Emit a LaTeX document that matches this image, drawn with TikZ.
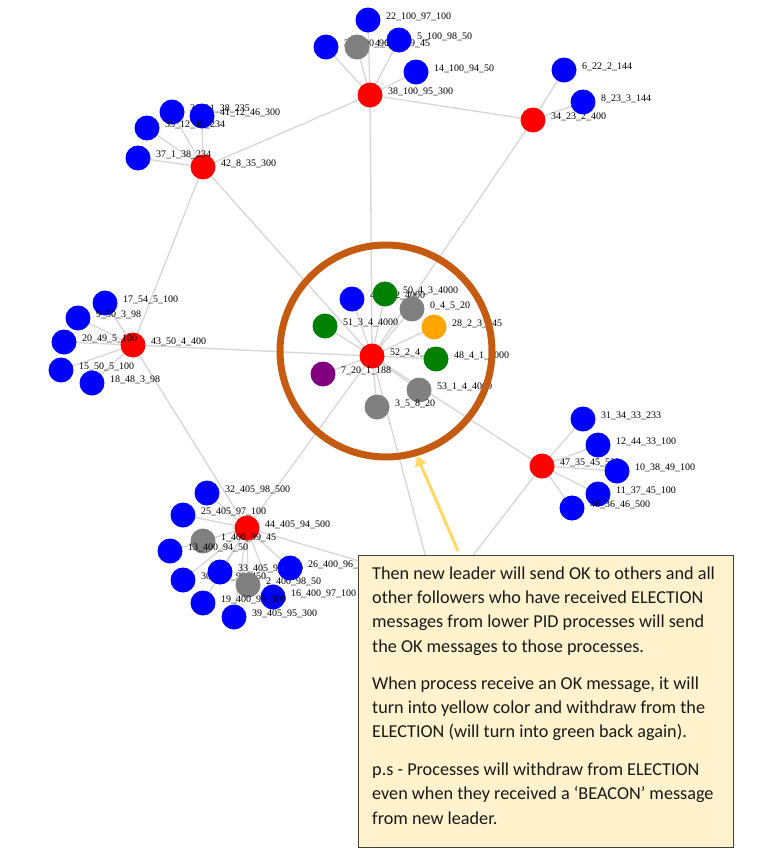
\documentclass[tikz,border=0pt]{standalone}
\usepackage{fontspec}
\setmainfont{Liberation Serif}
\newfontfamily\boxfont{Carlito}
\usetikzlibrary{calc,arrows.meta}
\definecolor{edgegray}{HTML}{D6D6D6}
\definecolor{pblue}{HTML}{0000FF}
\definecolor{pred}{HTML}{FF0000}
\definecolor{pgray}{HTML}{808080}
\definecolor{pgreen}{HTML}{008000}
\definecolor{porange}{HTML}{FFA500}
\definecolor{ppurple}{HTML}{800080}
\definecolor{ringbrown}{HTML}{C55A11}
\definecolor{arrowyellow}{HTML}{FFD966}
\definecolor{notefill}{HTML}{FFF2CC}
\definecolor{noteborder}{HTML}{404040}
\pgfdeclarelayer{bg}
\pgfsetlayers{bg,main}
\newcommand\procnode[5]{\node[proc,fill=#4] (#1) at (#2,#3) {};
  \node[lbl] (#1l) at ($(#1)+(18,-3)$) {#5};}
\begin{document}
\begin{tikzpicture}[x=1pt,y=-1pt,
  proc/.style={circle,minimum size=25pt,inner sep=0pt,draw=none},
  lbl/.style={anchor=west,inner sep=0pt,font=\fontsize{10}{12}\selectfont,text=black},
  link/.style={draw=edgegray,line width=1.3pt},
  ring/.style={draw=ringbrown,line width=7pt},
  pointer/.style={draw=arrowyellow,line width=3pt,-{Triangle[length=10pt,width=12pt]}},
  notebox/.style={draw=noteborder,fill=notefill,line width=1.3pt,inner sep=0pt,anchor=north west,minimum width=375pt,minimum height=292pt},
  noteline/.style={anchor=base west,inner sep=0pt,font=\boxfont\fontsize{18.2}{22}\selectfont,text=black!90}]
\useasboundingbox (0,0) rectangle (763,855);

% top cluster
\procnode{n38}{370}{95}{pred}{38\_100\_95\_300}
\procnode{n22}{368}{20}{pblue}{22\_100\_97\_100}
\procnode{n27}{326}{47}{pblue}{27\_100\_96\_100}
\procnode{n4}{357}{47}{pgray}{4\_100\_99\_45}
\procnode{n5}{399}{40}{pblue}{5\_100\_98\_50}
\procnode{n14}{416}{72}{pblue}{14\_100\_94\_50}
% top-left cluster
\procnode{n42}{203}{167}{pred}{42\_8\_35\_300}
\procnode{n36}{172}{112}{pblue}{36\_11\_38\_235}
\procnode{n41}{202}{116}{pblue}{41\_12\_46\_300}
\procnode{n35}{147}{128}{pblue}{35\_12\_45\_234}
\procnode{n37}{138}{158}{pblue}{37\_1\_38\_234}
% top-right cluster
\procnode{n34}{533}{120}{pred}{34\_23\_2\_400}
\procnode{n6}{564}{70}{pblue}{6\_22\_2\_144}
\procnode{n8}{583}{102}{pblue}{8\_23\_3\_144}
% left cluster
\procnode{n43}{133}{345}{pred}{43\_50\_4\_400}
\procnode{n17}{105}{303}{pblue}{17\_54\_5\_100}
\procnode{n9}{78}{318}{pblue}{9\_50\_3\_98}
\procnode{n20}{64}{342}{pblue}{20\_49\_5\_100}
\procnode{n15}{61}{370}{pblue}{15\_50\_5\_100}
\procnode{n18}{92}{383}{pblue}{18\_48\_3\_98}
% center cluster
\procnode{n52}{372}{356}{pred}{52\_2\_4\_4000}
\procnode{n49}{352}{299}{pblue}{49\_4\_2\_4000}
\procnode{n50}{385}{294}{pgreen}{50\_4\_3\_4000}
\procnode{n0}{412}{309}{pgray}{0\_4\_5\_20}
\procnode{n51}{325}{326}{pgreen}{51\_3\_4\_4000}
\procnode{n28}{434}{327}{porange}{28\_2\_3\_345}
\procnode{n48}{436}{359}{pgreen}{48\_4\_1\_4000}
\procnode{n7}{323}{374}{ppurple}{7\_20\_1\_188}
\procnode{n53}{419}{390}{pgray}{53\_1\_4\_4000}
\procnode{n3}{377}{407}{pgray}{3\_5\_8\_20}
% right cluster
\procnode{n47}{542}{466}{pred}{47\_35\_45\_533}
\procnode{n31}{583}{419}{pblue}{31\_34\_33\_233}
\procnode{n12}{598}{445}{pblue}{12\_44\_33\_100}
\procnode{n10}{617}{471}{pblue}{10\_38\_49\_100}
\procnode{n11}{598}{494}{pblue}{11\_37\_45\_100}
\procnode{n46}{572}{508}{pblue}{46\_36\_46\_500}
% bottom-left cluster
\procnode{n44}{247}{528}{pred}{44\_405\_94\_500}
\procnode{n32}{207}{493}{pblue}{32\_405\_98\_500}
\procnode{n25}{183}{515}{pblue}{25\_405\_97\_100}
\procnode{n1}{203}{541}{pgray}{1\_400\_99\_45}
\procnode{n13}{170}{551}{pblue}{13\_400\_94\_50}
\procnode{n30}{183}{580}{pblue}{30\_405\_99\_450}
\procnode{n33}{220}{572}{pblue}{33\_405\_96\_200}
\procnode{n2}{248}{585}{pgray}{2\_400\_98\_50}
\procnode{n26}{290}{568}{pblue}{26\_400\_96\_}
\procnode{n16}{273}{597}{pblue}{16\_400\_97\_100}
\procnode{n19}{203}{603}{pblue}{19\_400\_95\_300}
\procnode{n39}{234}{617}{pblue}{39\_405\_95\_300}

\coordinate (h1) at (432,580);
\coordinate (h2) at (454,580);
\coordinate (h3) at (380,567);

\begin{pgfonlayer}{bg}
  \fill[white] (0,0) rectangle (763,855);
  \foreach \a/\b in {n38/n22,n38/n27,n38/n4,n38/n5,n38/n14,
    n42/n36,n42/n41,n42/n35,n42/n37,
    n34/n6,n34/n8,
    n43/n17,n43/n9,n43/n20,n43/n15,n43/n18,
    n52/n49,n52/n50,n52/n0,n52/n51,n52/n28,n52/n48,n52/n7,n52/n53,n52/n3,
    n47/n31,n47/n12,n47/n10,n47/n11,n47/n46,
    n44/n32,n44/n25,n44/n1,n44/n13,n44/n30,n44/n33,n44/n2,n44/n26,n44/n16,n44/n19,n44/n39,
    n38/n42,n38/n34,n38/n52,n34/n52,n42/n52,n42/n43,n43/n52,n43/n44,n44/n52,n52/n47}
    {\draw[link] (\a.center) -- (\b.center);}
  \draw[link] (n52.center) -- (h1);
  \draw[link] (n47.center) -- (h2);
  \draw[link] (n44.center) -- (h3);
\end{pgfonlayer}

% highlight ring and pointer
\coordinate (ringc) at (386,351);
\draw[ring] (ringc) circle[radius=106pt];
\coordinate (arrtail) at (458,551);
\coordinate (arrtip) at (417,456);
\draw[pointer] (arrtail) -- (arrtip);

% note box
\node[notebox] (note) at (358,555) {};
\node[noteline] (t1) at (372,579) {Then new leader will send OK to others and all};
\node[noteline] (t2) at (372,603.3) {other followers who have received ELECTION};
\node[noteline] (t3) at (372,627.6) {messages from lower PID processes will send};
\node[noteline] (t4) at (372,652) {the OK messages to those processes.};
\node[noteline] (t5) at (372,689) {When process receive an OK message, it will};
\node[noteline] (t6) at (372,713.3) {turn into yellow color and withdraw from the};
\node[noteline] (t7) at (372,737.6) {ELECTION (will turn into green back again).};
\node[noteline] (t8) at (372,775.5) {p.s - Processes will withdraw from ELECTION};
\node[noteline] (t9) at (372,799.8) {even when they received a ‘BEACON’ message};
\node[noteline] (t10) at (372,824) {from new leader.};
\end{tikzpicture}
\end{document}
